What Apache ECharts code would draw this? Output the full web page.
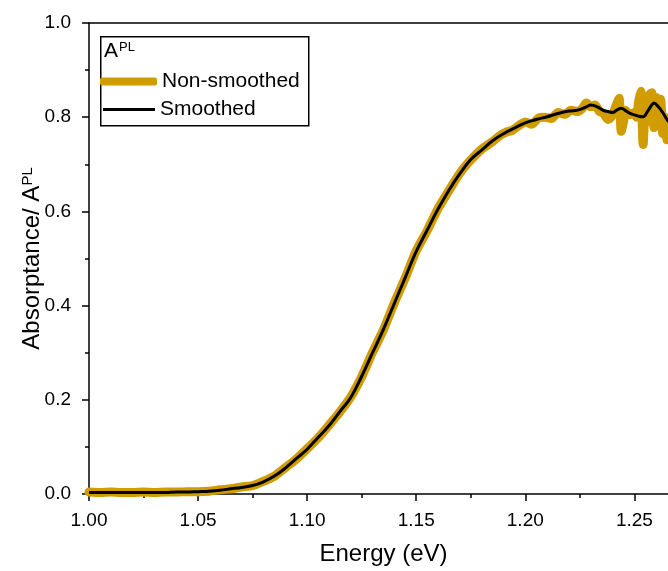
<!DOCTYPE html>
<html>
<head>
<meta charset="utf-8">
<script src="https://cdn.jsdelivr.net/npm/echarts@6/dist/echarts.min.js"></script>
<style>html,body{margin:0;padding:0;background:#fff}#c{width:668px;height:571px}</style>
</head>
<body>
<div id="c"></div>
<script>
// ---- data ----
var xTicks = ['1.00', '1.05', '1.10', '1.15', '1.20', '1.25'];
var yTicks = ['0.0', '0.2', '0.4', '0.6', '0.8', '1.0'];
var seriesNames = ['Non-smoothed', 'Smoothed'];

var smE = [1.000,1.005,1.010,1.015,1.020,1.025,1.030,1.035,1.040,1.045,1.050,1.055,1.060,1.065,1.070,1.075,1.080,1.085,1.090,1.095,
  1.100,1.105,1.110,1.115,1.120,1.125,1.130,1.135,1.140,1.145,1.150,1.155,1.160,1.165,1.170,1.175,1.180,1.185,1.190,1.195,
  1.200,1.205,1.210,1.215,1.220,1.224,1.228,1.230,1.233,1.236,1.238,1.240,1.242,1.244,1.246,1.248,1.250,1.252,1.254,1.256,
  1.258,1.259,1.261,1.263,1.265,1.267,1.270];
var smA = [0.003,0.003,0.003,0.003,0.003,0.003,0.003,0.003,0.004,0.004,0.005,0.006,0.008,0.011,0.014,0.018,0.026,0.038,0.055,0.075,
  0.095,0.120,0.145,0.175,0.205,0.250,0.300,0.350,0.405,0.460,0.515,0.560,0.605,0.645,0.680,0.710,0.730,0.750,0.765,0.777,
  0.788,0.795,0.801,0.808,0.813,0.815,0.822,0.826,0.822,0.814,0.812,0.810,0.815,0.819,0.814,0.808,0.805,0.802,0.801,0.812,
  0.826,0.830,0.822,0.810,0.795,0.787,0.785];

var nsE = [1.000,1.005,1.010,1.015,1.020,1.025,1.030,1.035,1.040,1.045,1.050,1.055,1.060,1.065,1.070,1.075,1.080,1.085,1.090,1.095,
  1.100,1.105,1.110,1.115,1.120,1.125,1.130,1.135,1.140,1.145,1.150,1.155,1.160,1.165,1.170,1.175,1.180,1.185,1.188,1.191,
  1.194,1.197,1.200,1.203,1.206,1.209,1.212,1.215,1.218,1.221,1.224,1.226,1.228,1.230,1.232,1.234,1.236,1.237,1.238,1.240,
  1.242,1.243,1.244,1.245,1.246,1.248,1.250,1.251,1.252,1.253,1.254,1.255,1.256,1.257,1.258,1.259,1.260,1.261,1.262,1.263,
  1.264,1.265,1.266,1.268,1.270];
var nsA = [0.004,0.003,0.004,0.003,0.003,0.004,0.003,0.004,0.004,0.005,0.005,0.006,0.009,0.011,0.015,0.018,0.027,0.038,0.056,0.074,
  0.096,0.119,0.146,0.174,0.206,0.249,0.301,0.349,0.406,0.459,0.516,0.559,0.606,0.644,0.681,0.709,0.732,0.748,0.760,0.768,
  0.772,0.782,0.790,0.785,0.798,0.800,0.797,0.810,0.806,0.815,0.812,0.818,0.830,0.822,0.826,0.812,0.808,0.800,0.795,0.805,
  0.830,0.840,0.770,0.790,0.815,0.805,0.810,0.800,0.835,0.855,0.742,0.810,0.790,0.848,0.852,0.778,0.842,0.820,0.838,0.765,
  0.800,0.752,0.790,0.780,0.780];

function pairs(xs, ys) { var out = []; for (var i = 0; i < xs.length; i++) out.push([xs[i], ys[i]]); return out; }

var FONT = "'Liberation Sans', Arial, sans-serif";
var GOLD = '#D09C00';
var chart = echarts.init(document.getElementById('c'), null, {renderer: 'canvas'});
chart.setOption({
  backgroundColor: '#ffffff',
  animation: false,
  textStyle: {fontFamily: FONT, color: '#000'},
  grid: {left: 89, top: 23, right: -10, bottom: 77, containLabel: false, outerBoundsMode: 'none'},
  xAxis: [{
    type: 'value', min: 1.0, max: 1.27, interval: 0.05,
    name: 'Energy (eV)', nameLocation: 'middle', nameGap: 48, nameMoveOverlap: false,
    nameTextStyle: {fontSize: 24, fontFamily: FONT, color: '#000'},
    axisLine: {show: true, onZero: false, lineStyle: {color: '#000', width: 1.5}},
    axisTick: {show: true, inside: false, length: 7, lineStyle: {color: '#000', width: 1.5}},
    minorTick: {show: true, splitNumber: 2, length: 4, lineStyle: {color: '#000', width: 1.5}},
    axisLabel: {fontSize: 19, fontFamily: FONT, color: '#000', margin: 17, showMaxLabel: false,
      formatter: function (v) { var s = v.toFixed(2); return xTicks.indexOf(s) >= 0 ? s : ''; }},
    splitLine: {show: false}
  }, {
    type: 'value', position: 'top', min: 1.0, max: 1.27,
    axisLine: {show: true, onZero: false, lineStyle: {color: '#000', width: 1.5}},
    axisTick: {show: false}, axisLabel: {show: false}, splitLine: {show: false}
  }],
  yAxis: [{
    type: 'value', min: 0, max: 1, interval: 0.2,
    name: 'Absorptance/ A{sup|PL}', nameLocation: 'middle', nameGap: 45, nameRotate: 90, nameMoveOverlap: false,
    nameTextStyle: {fontSize: 24, fontFamily: FONT, color: '#000',
      rich: {sup: {fontSize: 15, fontFamily: FONT, color: '#000', verticalAlign: 'top', padding: [0, 0, 8, 0]}}},
    axisLine: {show: true, onZero: false, lineStyle: {color: '#000', width: 1.5}},
    axisTick: {show: true, inside: false, length: 7, lineStyle: {color: '#000', width: 1.5}},
    minorTick: {show: true, splitNumber: 2, length: 4, lineStyle: {color: '#000', width: 1.5}},
    axisLabel: {fontSize: 19, fontFamily: FONT, color: '#000', margin: 18,
      formatter: function (v) { var s = v.toFixed(1); return yTicks.indexOf(s) >= 0 ? s : ''; }},
    splitLine: {show: false}
  }],
  legend: [{
    left: 100, top: 71, padding: 0, itemWidth: 57, itemHeight: 8, icon: 'roundRect',
    textStyle: {fontSize: 21, fontFamily: FONT, color: '#000'},
    data: [{name: seriesNames[0], itemStyle: {color: GOLD}}]
  }, {
    left: 103, top: 99, padding: 0, itemWidth: 52, itemHeight: 3, icon: 'rect',
    textStyle: {fontSize: 21, fontFamily: FONT, color: '#000'},
    data: [{name: seriesNames[1], itemStyle: {color: '#000'}}]
  }],
  graphic: [{
    type: 'rect', left: 100, top: 36, z: 0,
    shape: {width: 208, height: 89},
    style: {fill: '#fff', stroke: '#000', lineWidth: 1.5}
  }, {
    type: 'text', left: 104, top: 41, z: 10,
    style: {text: 'A{sup|PL}', font: '21px ' + FONT, fill: '#000',
      rich: {sup: {fontSize: 13, fontFamily: FONT, fill: '#000', verticalAlign: 'top', padding: [0, 0, 6, 1]}}}
  }],
  series: [{
    name: seriesNames[0], type: 'line', xAxisIndex: 0, yAxisIndex: 0,
    data: pairs(nsE, nsA), showSymbol: false, symbol: 'none', smooth: 0.25,
    lineStyle: {color: GOLD, width: 9, cap: 'round', join: 'round'}, itemStyle: {color: GOLD}, z: 2
  }, {
    name: seriesNames[1], type: 'line', xAxisIndex: 0, yAxisIndex: 0,
    data: pairs(smE, smA), showSymbol: false, symbol: 'none', smooth: 0.4,
    lineStyle: {color: '#000', width: 3}, itemStyle: {color: '#000'}, z: 3
  }]
});
</script>
</body>
</html>
